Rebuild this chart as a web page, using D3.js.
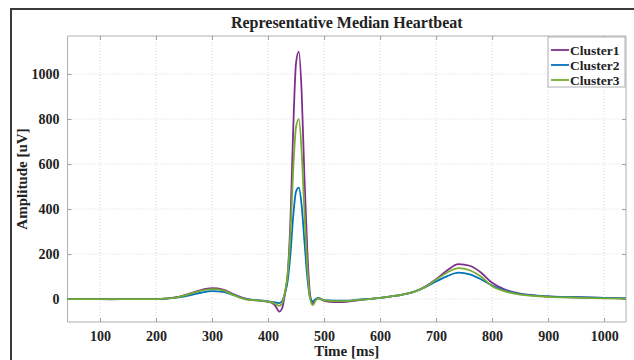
<!DOCTYPE html>
<html>
<head>
<meta charset="utf-8">
<script src="https://cdn.jsdelivr.net/npm/d3@7"></script>
<style>
  body { margin: 0; background: #fff; }
  svg text { font-family: "Liberation Serif", "Times New Roman", serif; font-weight: bold; fill: #222; }
</style>
</head>
<body>
<div id="chart"></div>
<script>
// time axis of the median beat (ms)
const timeMs = [42, 80, 120, 160, 200, 220, 240, 260, 280, 300, 320, 340, 360, 380, 400, 410,
  415, 420, 425, 430, 435, 440, 445, 450, 455, 460, 465, 470, 475, 480, 485, 490,
  500, 520, 540, 560, 580, 600, 620, 640, 660, 680, 700, 720, 740, 760, 780, 800,
  820, 850, 900, 950, 1000, 1039];

const cluster1 = [0, 0, -1, 0, 0, 3, 10, 24, 40, 48, 42, 20, 2, -6, -12, -22,
  -38, -56, -42, 20, 110, 350, 760, 1050, 1100, 920, 540, 220, 20, -20, -2, 2,
  -8, -14, -12, -6, 0, 5, 12, 20, 32, 55, 88, 128, 155, 148, 118, 72,
  45, 24, 12, 8, 5, 3];

const cluster2 = [0, 0, 0, 0, 0, 2, 7, 16, 28, 35, 32, 16, 0, -5, -10, -14,
  -16, -18, -10, 25, 80, 200, 370, 478, 495, 415, 255, 100, 6, -10, 0, 5,
  -5, -7, -7, -3, 1, 5, 12, 20, 32, 52, 78, 102, 117, 110, 88, 60,
  40, 22, 12, 8, 5, 3];

const cluster3 = [0, 0, 0, 0, 0, 3, 9, 22, 37, 44, 38, 16, -1, -6, -12, -18,
  -24, -30, -20, 30, 110, 290, 580, 765, 800, 655, 385, 150, 2, -27, -6, 3,
  -6, -9, -9, -4, 0, 5, 12, 20, 32, 53, 86, 118, 137, 128, 100, 57,
  36, 20, 10, 6, 3, 2];

const seriesNames = ["Cluster1", "Cluster2", "Cluster3"];
const seriesColors = ["#7E2F8E", "#0072BD", "#77AC30"];
const xTicks = [100, 200, 300, 400, 500, 600, 700, 800, 900, 1000];
const yTicks = [0, 200, 400, 600, 800, 1000];

const W = 634, H = 360;
const margin = { left: 67.5, top: 36, right: 8, bottom: 38 };
const pw = W - margin.left - margin.right;
const ph = H - margin.top - margin.bottom;

const svg = d3.select("#chart").append("svg")
  .attr("width", W).attr("height", H);

// outer figure frame
svg.append("rect")
  .attr("x", 11).attr("y", 9)
  .attr("width", 640).attr("height", 360)
  .attr("fill", "none").attr("stroke", "#3a3a3a").attr("stroke-width", 2);

const x = d3.scaleLinear().domain([42, 1039]).range([0, pw]);
const y = d3.scaleLinear().domain([-102, 1169]).range([ph, 0]);

const g = svg.append("g").attr("transform", `translate(${margin.left},${margin.top})`);

// grid
g.append("g").selectAll("line").data(xTicks).enter().append("line")
  .attr("x1", d => x(d)).attr("x2", d => x(d)).attr("y1", 0).attr("y2", ph)
  .attr("stroke", "#d8d8d8").attr("stroke-dasharray", "1,2");
g.append("g").selectAll("line").data(yTicks).enter().append("line")
  .attr("y1", d => y(d)).attr("y2", d => y(d)).attr("x1", 0).attr("x2", pw)
  .attr("stroke", "#d8d8d8").attr("stroke-dasharray", "1,2");

// axes
const fmt = d3.format("d");
const xAxis = g.append("g").attr("transform", `translate(0,${ph})`)
  .call(d3.axisBottom(x).tickValues(xTicks).tickFormat(fmt).tickSize(-4).tickPadding(9));
const xTop = g.append("g")
  .call(d3.axisTop(x).tickValues(xTicks).tickSize(-4).tickFormat(""));
const yAxis = g.append("g")
  .call(d3.axisLeft(y).tickValues(yTicks).tickFormat(fmt).tickSize(-4).tickPadding(8));
const yRight = g.append("g").attr("transform", `translate(${pw},0)`)
  .call(d3.axisRight(y).tickValues(yTicks).tickSize(-4).tickFormat(""));

[xAxis, xTop, yAxis, yRight].forEach(a => {
  a.attr("font-family", null);
  a.select(".domain").attr("stroke", "#b0b0b0");
  a.selectAll(".tick line").attr("stroke", "#a0a0a0");
  a.selectAll("text").style("font-size", "14px").attr("fill", "#262626");
});
xAxis.selectAll(".domain").attr("d", `M0,0H${pw}`);
xTop.selectAll(".domain").attr("d", `M0,0H${pw}`);
yAxis.selectAll(".domain").attr("d", `M0,0V${ph}`);
yRight.selectAll(".domain").attr("d", `M0,0V${ph}`);

// lines
const seriesData = [cluster1, cluster2, cluster3];
const line = d3.line().x((d, i) => x(timeMs[i])).y(d => y(d)).curve(d3.curveMonotoneX);
svg.append("clipPath").attr("id", "clip")
  .append("rect").attr("width", pw).attr("height", ph);
g.append("g").attr("clip-path", "url(#clip)")
  .selectAll("path").data(seriesData).enter().append("path")
  .attr("d", line)
  .attr("fill", "none")
  .attr("stroke", (d, i) => seriesColors[i])
  .attr("stroke-width", 1.8)
  .attr("stroke-linejoin", "round");

// title and labels
svg.append("text").attr("x", margin.left + pw / 2).attr("y", 28)
  .attr("text-anchor", "middle").style("font-size", "16px").text("Representative Median Heartbeat");
svg.append("text").attr("x", margin.left + pw / 2).attr("y", 356)
  .attr("text-anchor", "middle").style("font-size", "15px").text("Time [ms]");
svg.append("text").attr("transform", `translate(27,${margin.top + ph / 2}) rotate(-90)`)
  .attr("text-anchor", "middle").style("font-size", "15px").text("Amplitude [uV]");

// legend
const lg = svg.append("g").attr("transform", "translate(548,37)");
lg.append("rect").attr("width", 77).attr("height", 50)
  .attr("fill", "#fff").attr("stroke", "#b0b0b0");
seriesNames.forEach((name, i) => {
  const yy = 13 + i * 15;
  lg.append("line").attr("x1", 3).attr("x2", 21).attr("y1", yy).attr("y2", yy)
    .attr("stroke", seriesColors[i]).attr("stroke-width", 1.8);
  lg.append("text").attr("x", 22).attr("y", yy + 4.5).style("font-size", "13.5px").text(name);
});
</script>
</body>
</html>
